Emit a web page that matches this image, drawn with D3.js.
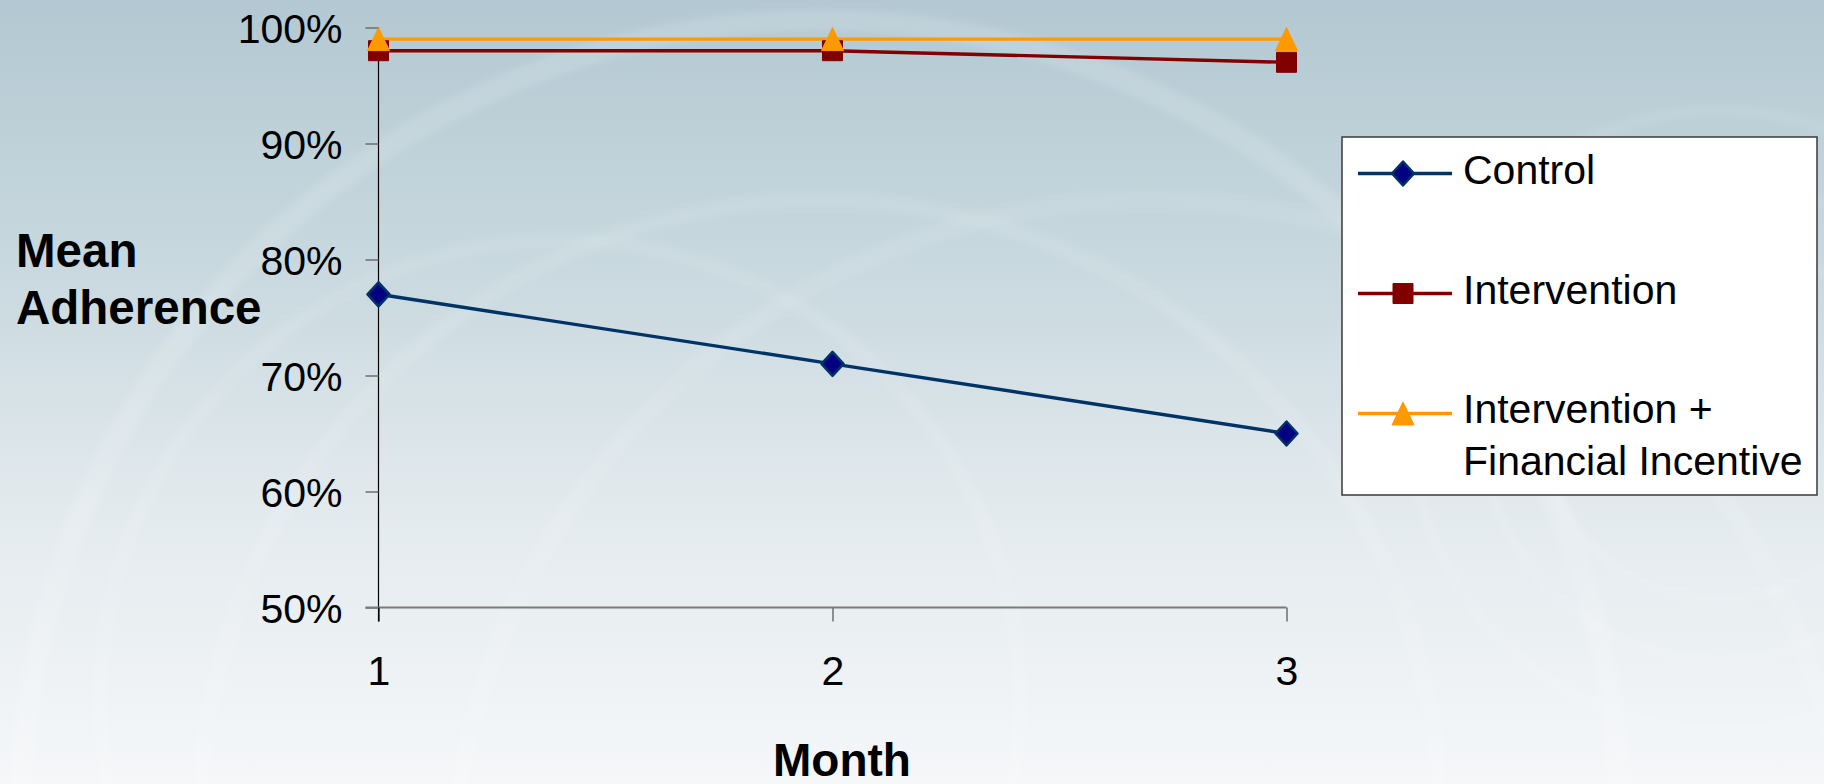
<!DOCTYPE html>
<html>
<head>
<meta charset="utf-8">
<script src="https://cdn.jsdelivr.net/npm/d3@7"></script>
<style>
  html, body { margin: 0; padding: 0; background: #ffffff; }
  svg { display: block; font-family: "Liberation Sans", Arial, sans-serif; }
</style>
</head>
<body>
<svg id="chart" width="1824" height="784"></svg>
<script>
// Mean adherence by month, three study arms
const months = [1, 2, 3];
const seriesNames = ["Control", "Intervention", "Intervention + Financial Incentive"];
const controlValues = [0.77, 0.71, 0.65];
const interventionValues = [0.98, 0.98, 0.97];
const incentiveValues = [0.99, 0.99, 0.99];
const yTickValues = [0.5, 0.6, 0.7, 0.8, 0.9, 1.0];

const series = [
  { name: seriesNames[0], values: controlValues, line: "#003366", fill: "#000080", stroke: "#003366", shape: "diamond" },
  { name: seriesNames[1], values: interventionValues, line: "#800000", fill: "#800000", stroke: "#800000", shape: "square" },
  { name: seriesNames[2], values: incentiveValues, line: "#FF9900", fill: "#FF9900", stroke: "#FF9900", shape: "triangle" }
];

const svg = d3.select("#chart");
const W = 1824, H = 784;

// ---- background: soft blue-grey wash with faint globe arcs ----
const defs = svg.append("defs");
const bg = defs.append("linearGradient").attr("id", "bg").attr("x1", 0).attr("y1", 0).attr("x2", 0).attr("y2", 1);
bg.append("stop").attr("offset", "0%").attr("stop-color", "#b3c8d2");
bg.append("stop").attr("offset", "35%").attr("stop-color", "#c9d9df");
bg.append("stop").attr("offset", "65%").attr("stop-color", "#e3eaee");
bg.append("stop").attr("offset", "100%").attr("stop-color", "#f5f7f9");
svg.append("rect").attr("width", W).attr("height", H).attr("fill", "url(#bg)");

const blur = defs.append("filter").attr("id", "soft").attr("x", "-20%").attr("y", "-20%").attr("width", "140%").attr("height", "140%");
blur.append("feGaussianBlur").attr("stdDeviation", 3);

const arcs = svg.append("g").attr("fill", "none").attr("stroke", "#ffffff").attr("filter", "url(#soft)");
[
  { cx: 820, cy: 820, r: 800, w: 22, o: 0.13 },
  { cx: 820, cy: 820, r: 620, w: 16, o: 0.09 },
  { cx: 560, cy: 700, r: 460, w: 14, o: 0.08 },
  { cx: 1720, cy: 420, r: 180, w: 8, o: 0.12 },
  { cx: 1720, cy: 420, r: 240, w: 8, o: 0.10 },
  { cx: 1720, cy: 420, r: 310, w: 10, o: 0.08 },
  { cx: 1150, cy: 900, r: 700, w: 18, o: 0.08 }
].forEach(a => {
  arcs.append("circle").attr("cx", a.cx).attr("cy", a.cy).attr("r", a.r)
    .attr("stroke-width", a.w).attr("stroke-opacity", a.o);
});

// ---- scales ----
const x = d3.scalePoint().domain(months).range([378.5, 1286.5]);
const y = d3.scaleLinear().domain([0.5, 1.0]).range([607.5, 27.5]);

// ---- axes ----
const yAxis = d3.axisLeft(y).tickValues(yTickValues).tickFormat(d3.format(".0%")).tickSize(13).tickPadding(23);
const gy = svg.append("g").attr("transform", `translate(${x(1)},0)`).call(yAxis);
gy.select(".domain").attr("stroke", "#000").attr("stroke-width", 1.2).attr("d", `M0,${y(1.0)}V${y(0.5) + 14}`);
gy.selectAll(".tick line").attr("stroke", "#6e6e6e").attr("stroke-width", 1.5);
gy.selectAll(".tick text").attr("font-size", 41).attr("fill", "#000").attr("dy", "0.36em");

const xAxis = d3.axisBottom(x).tickSize(14).tickPadding(34);
const gx = svg.append("g").attr("transform", `translate(0,${y(0.5)})`).call(xAxis);
gx.select(".domain").attr("stroke", "#7a7a7a").attr("stroke-width", 2).attr("d", `M${x(1) - 13},0H${x(3)}`);
gx.selectAll(".tick line").attr("stroke", "#6e6e6e").attr("stroke-width", 1.5);
gx.selectAll(".tick text").attr("font-size", 41).attr("fill", "#000").attr("dy", "0.71em");
gx.selectAll(".tick").filter(d => d === 1).select("line").attr("stroke", "#000").attr("stroke-width", 1.2);

// ---- axis titles ----
svg.append("text").attr("x", 16).attr("y", 266.5).attr("font-size", 47.5).attr("font-weight", "bold").text("Mean");
svg.append("text").attr("x", 16).attr("y", 324).attr("font-size", 47.5).attr("font-weight", "bold").text("Adherence");
svg.append("text").attr("x", 842).attr("y", 776).attr("text-anchor", "middle")
  .attr("font-size", 46).attr("font-weight", "bold").text("Month");

// ---- markers ----
function markerPath(shape) {
  if (shape === "diamond") return "M0,-12L11,0L0,12L-11,0Z";
  if (shape === "square") return "M-10,-10H10V10H-10Z";
  return "M0,-11.5L11,11.5L-11,11.5Z";
}

// ---- series lines and markers ----
const line = d3.line().x((d, i) => x(months[i])).y(d => y(d));
const plot = svg.append("g");
series.forEach(s => {
  plot.append("path").attr("d", line(s.values)).attr("fill", "none")
    .attr("stroke", s.line).attr("stroke-width", 3.4).attr("stroke-linejoin", "round");
});
series.forEach(s => {
  plot.selectAll(null).data(s.values).enter().append("path")
    .attr("transform", (d, i) => `translate(${x(months[i])},${y(d)})`)
    .attr("d", markerPath(s.shape))
    .attr("fill", s.fill).attr("stroke", s.stroke)
    .attr("stroke-width", s.shape === "diamond" ? 2.5 : 1).attr("stroke-linejoin", "round");
});

// ---- legend ----
const legend = svg.append("g");
legend.append("rect").attr("x", 1342).attr("y", 137).attr("width", 475).attr("height", 358)
  .attr("fill", "#ffffff").attr("stroke", "#3a3a3a").attr("stroke-width", 1.5);
const legendRows = [
  { s: series[0], cy: 173.5, lines: ["Control"], base: 184 },
  { s: series[1], cy: 293.5, lines: ["Intervention"], base: 303.5 },
  { s: series[2], cy: 413.5, lines: ["Intervention +", "Financial Incentive"], base: 423 }
];
legendRows.forEach(r => {
  legend.append("line").attr("x1", 1358).attr("x2", 1452).attr("y1", r.cy).attr("y2", r.cy)
    .attr("stroke", r.s.line).attr("stroke-width", 3.4);
  legend.append("path").attr("transform", `translate(1403,${r.cy})`).attr("d", markerPath(r.s.shape))
    .attr("fill", r.s.fill).attr("stroke", r.s.stroke)
    .attr("stroke-width", r.s.shape === "diamond" ? 2.5 : 1).attr("stroke-linejoin", "round");
  r.lines.forEach((t, i) => {
    legend.append("text").attr("x", 1463).attr("y", r.base + i * 51.5).attr("font-size", 41).attr("fill", "#000").text(t);
  });
});
</script>
</body>
</html>
